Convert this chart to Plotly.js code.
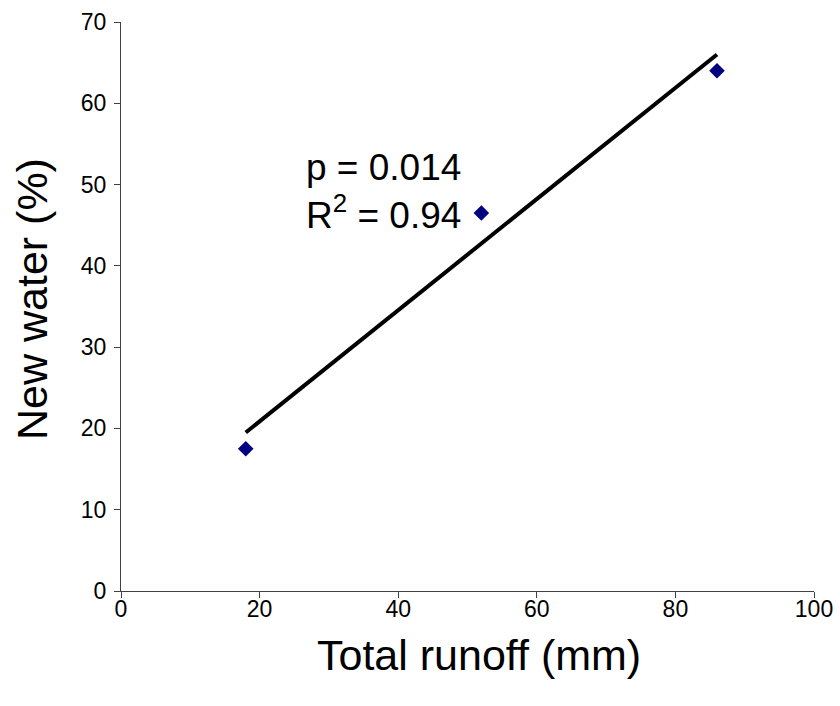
<!DOCTYPE html>
<html>
<head>
<meta charset="utf-8">
<script src="https://cdn.plot.ly/plotly-3.0.1.min.js"></script>
<style>html,body{margin:0;padding:0;background:#fff;}#chart{width:840px;height:706px;}</style>
</head>
<body>
<div id="chart"></div>
<script>
// Observed data points
const runoffMm = [18, 52, 86];
const newWaterPct = [17.5, 46.5, 64];
// Linear trend line endpoints
const trendX = [18, 86];
const trendY = [19.5, 66];
// Axis ticks
const xTicks = [0, 20, 40, 60, 80, 100];
const yTicks = [0, 10, 20, 30, 40, 50, 60, 70];
const statText = ["p = 0.014", "R<sup>2</sup> = 0.94"];
const xTitle = "Total runoff (mm)";
const yTitle = "New water (%)";

const FONT = "Arial, 'Liberation Sans', sans-serif";

const traces = [
  {
    x: trendX, y: trendY, type: "scatter", mode: "lines",
    line: {color: "#000000", width: 4}, hoverinfo: "skip", showlegend: false
  },
  {
    x: runoffMm, y: newWaterPct, type: "scatter", mode: "markers",
    marker: {symbol: "diamond", size: 12, color: "#000080", line: {width: 0}},
    showlegend: false
  }
];

const axisCommon = {
  showgrid: false, zeroline: false, showline: true, linecolor: "#404040", linewidth: 1,
  ticks: "outside", ticklen: 6, tickwidth: 1, tickcolor: "#404040",
  tickfont: {family: FONT, size: 23, color: "#000"}, mirror: false
};

const PL = 121, PT = 22, PW = 693, PH = 569;

const layout = {
  width: 840, height: 706,
  paper_bgcolor: "#fff", plot_bgcolor: "#fff",
  margin: {l: PL, r: 26, t: PT, b: 115},
  xaxis: Object.assign({}, axisCommon, {
    range: [0, 100], tickvals: xTicks, ticktext: xTicks.map(String),
    ticklabelstandoff: -9
  }),
  yaxis: Object.assign({}, axisCommon, {
    range: [0, 70], tickvals: yTicks, ticktext: yTicks.map(String),
    ticklabelstandoff: 3
  }),
  annotations: statText.map((t, i) => ({
    xref: "paper", yref: "paper", x: (304 - PL) / PW, y: 1 - ((168 + 44 * i) - PT) / PH,
    xanchor: "left", yanchor: "middle", align: "left", showarrow: false,
    text: t,
    font: {family: FONT, size: 37, color: "#000"}
  })).concat([
    {
      xref: "paper", yref: "paper", x: (479 - PL) / PW, y: 1 - (655 - PT) / PH,
      xanchor: "center", yanchor: "middle", showarrow: false,
      text: xTitle, font: {family: FONT, size: 43, color: "#000"}
    },
    {
      xref: "paper", yref: "paper", x: (32 - PL) / PW, y: 1 - (299 - PT) / PH,
      xanchor: "center", yanchor: "middle", showarrow: false, textangle: -90,
      text: yTitle, font: {family: FONT, size: 43, color: "#000"}
    }
  ])
};

Plotly.newPlot("chart", traces, layout, {staticPlot: true, displayModeBar: false});
</script>
</body>
</html>
